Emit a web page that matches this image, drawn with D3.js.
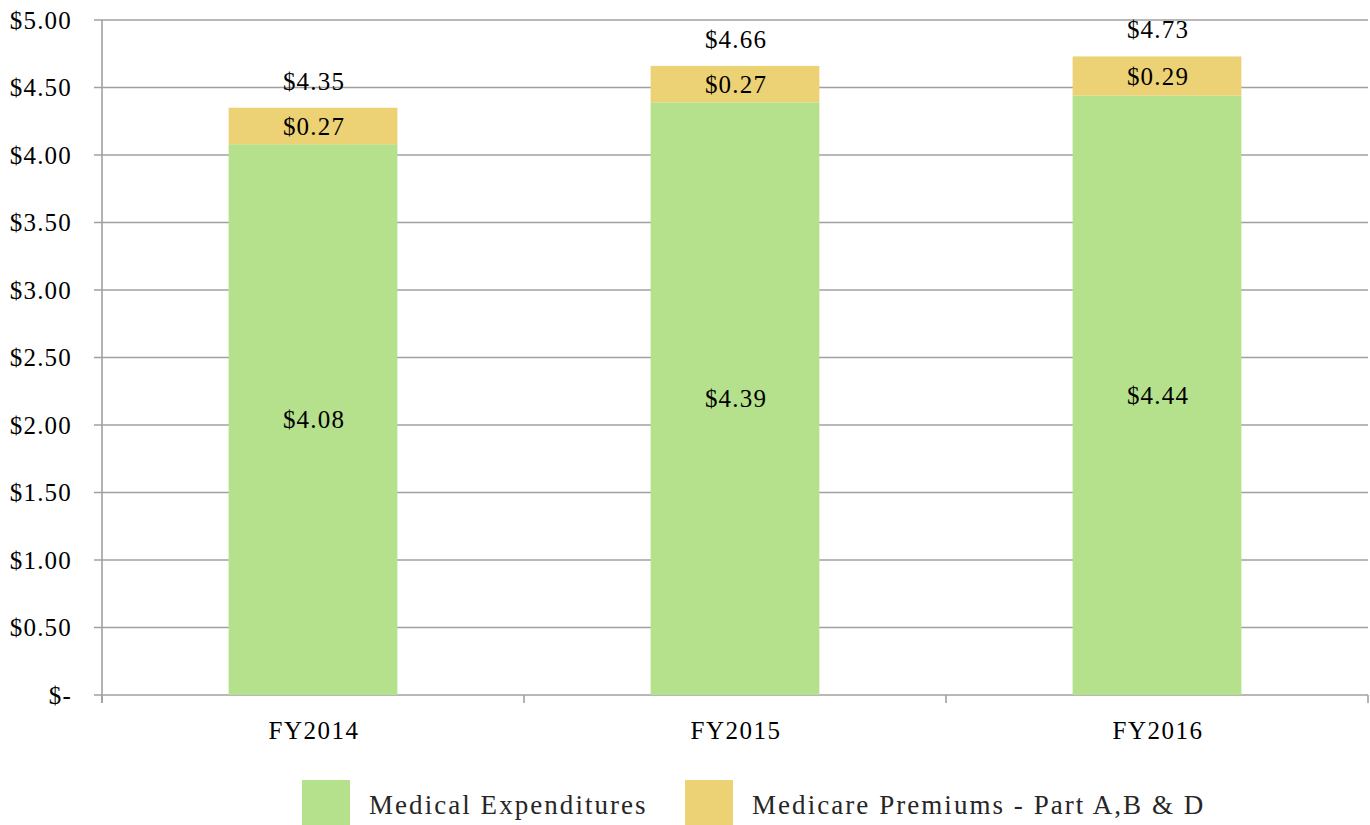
<!DOCTYPE html>
<html><head><meta charset="utf-8">
<script src="https://cdn.jsdelivr.net/npm/d3@7"></script>
<style>body{margin:0;background:#fff}svg{display:block}text{font-family:"Liberation Serif","DejaVu Serif",serif;fill:#000}</style>
</head><body><svg id="c" width="1370" height="825"></svg>
<script>
const categories = ["FY2014","FY2015","FY2016"];
const medical = [4.08, 4.39, 4.44];
const premiums = [0.27, 0.27, 0.29];
const totals = [4.35, 4.66, 4.73];
const yTicks = [0,0.5,1,1.5,2,2.5,3,3.5,4,4.5,5];
const seriesNames = ["Medical Expenditures","Medicare Premiums - Part A,B & D"];
const colors = ["#b5e08c","#ecd275"];

const svg = d3.select("#c");
const L=102, R=1368, T=20, B=695;
const x = d3.scaleBand().domain(categories).range([L,R]).paddingInner(0.6).paddingOuter(0.3);
const xb = d3.scaleBand().domain(categories).range([L,R]);
const y = d3.scaleLinear().domain([0,5]).range([B,T]);
const fmt = v => v===0 ? "$-" : "$" + v.toFixed(2);
const FS = "25px", LS = "1.2px";

// gridlines
svg.append("g").selectAll("line").data(yTicks).join("line")
  .attr("x1",L-8).attr("x2",R).attr("y1",d=>y(d)).attr("y2",d=>y(d))
  .attr("stroke","#a0a0a0").attr("stroke-width",1.6);
// y axis line
svg.append("line").attr("x1",L).attr("x2",L).attr("y1",T).attr("y2",B+8).attr("stroke","#a0a0a0").attr("stroke-width",1.6);
// x ticks
const xt = categories.map(c=>xb(c)).concat([R]);
svg.append("g").selectAll("line").data(xt).join("line")
  .attr("x1",d=>d).attr("x2",d=>d).attr("y1",B).attr("y2",B+8).attr("stroke","#a0a0a0").attr("stroke-width",1.6);
// y labels
svg.append("g").selectAll("text").data(yTicks).join("text")
  .attr("x",L-30).attr("y",d=>y(d)).attr("dy","0.35em").attr("text-anchor","end")
  .style("font-size",FS).style("letter-spacing",LS).text(fmt);

// stacked
const data = categories.map((c,i)=>({c, m:medical[i], p:premiums[i], t:totals[i]}));
const g = svg.append("g");
g.selectAll(".m").data(data).join("rect").attr("class","m")
  .attr("x",d=>x(d.c)).attr("width",x.bandwidth()).attr("y",d=>y(d.m)).attr("height",d=>y(0)-y(d.m)).attr("fill",colors[0]);
g.selectAll(".p").data(data).join("rect").attr("class","p")
  .attr("x",d=>x(d.c)).attr("width",x.bandwidth()).attr("y",d=>y(d.m+d.p)).attr("height",d=>y(d.m)-y(d.m+d.p)).attr("fill",colors[1]);
// labels
const cx = d=>x(d.c)+x.bandwidth()/2+1;
g.selectAll(".ml").data(data).join("text").attr("x",cx).attr("y",d=>y(d.m/2)).attr("dy","0.35em")
  .attr("text-anchor","middle").style("font-size",FS).style("letter-spacing",LS).text(d=>fmt(d.m));
g.selectAll(".pl").data(data).join("text").attr("x",cx).attr("y",d=>y(d.m+d.p/2)).attr("dy","0.35em")
  .attr("text-anchor","middle").style("font-size",FS).style("letter-spacing",LS).text(d=>fmt(d.p));
g.selectAll(".tl").data(data).join("text").attr("x",cx).attr("y",d=>y(d.m+d.p)-27).attr("dy","0.35em")
  .attr("text-anchor","middle").style("font-size",FS).style("letter-spacing",LS).text(d=>fmt(d.t));
// x labels
svg.append("g").selectAll("text").data(categories).join("text")
  .attr("x",d=>x(d)+x.bandwidth()/2+1).attr("y",730).attr("dy","0.35em").attr("text-anchor","middle")
  .style("font-size",FS).style("letter-spacing","1.5px").text(d=>d);

// legend
const leg = [{n:seriesNames[0],c:colors[0],x:302},{n:seriesNames[1],c:colors[1],x:685}];
const lg = svg.append("g").selectAll("g").data(leg).join("g");
lg.append("rect").attr("x",d=>d.x).attr("y",780).attr("width",48).attr("height",45).attr("fill",d=>d.c);
lg.append("text").attr("x",d=>d.x+67).attr("y",805).attr("dy","0.35em").style("font-size","27px")
  .style("letter-spacing","2.05px").style("fill","#262626").text(d=>d.n);
</script></body></html>
